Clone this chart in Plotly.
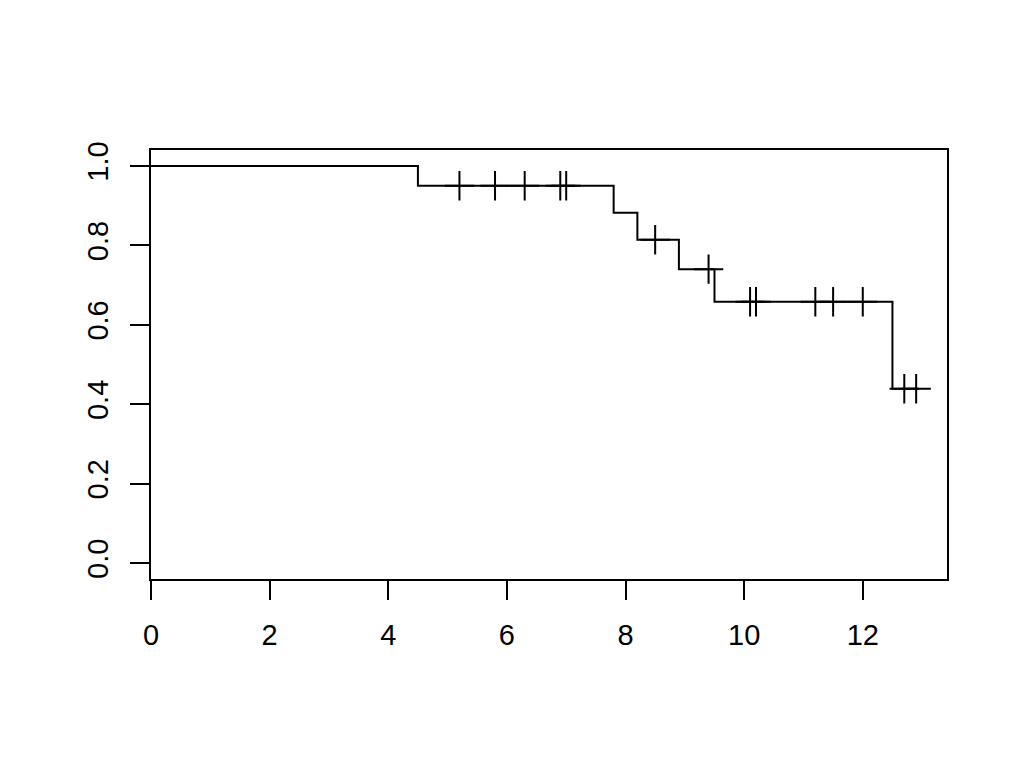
import plotly.graph_objects as go

# Kaplan-Meier step curve
step_times = [0, 4.5, 7.8, 8.2, 8.9, 9.5, 12.5, 12.9]
step_surv = [1.0, 0.95, 0.882, 0.814, 0.740, 0.658, 0.439, 0.439]

# censor marks
censor_times = [5.2, 5.8, 6.3, 6.9, 7.0, 8.5, 9.4, 10.1, 10.2, 11.2, 11.5, 12.0, 12.7, 12.9]
censor_surv = [0.95, 0.95, 0.95, 0.95, 0.95, 0.814, 0.740, 0.658, 0.658, 0.658, 0.658, 0.658, 0.439, 0.439]

x_ticks = [0, 2, 4, 6, 8, 10, 12]
y_ticks = [0.0, 0.2, 0.4, 0.6, 0.8, 1.0]
y_tick_labels = ["0.0", "0.2", "0.4", "0.6", "0.8", "1.0"]

fig = go.Figure()
fig.add_trace(go.Scatter(
    x=step_times, y=step_surv, mode="lines",
    line=dict(color="black", width=2, shape="hv"),
    showlegend=False, hoverinfo="skip"))
fig.add_trace(go.Scatter(
    x=censor_times, y=censor_surv, mode="markers",
    marker=dict(symbol="cross-thin", size=21, color="black",
                line=dict(color="black", width=2)),
    showlegend=False, hoverinfo="skip"))

axis_font = dict(family="Liberation Sans, Arial, sans-serif", size=29, color="black")

fig.update_layout(
    width=1024, height=768,
    margin=dict(l=143, r=85, t=142, b=197, autoexpand=False),
    paper_bgcolor="white", plot_bgcolor="white",
    xaxis=dict(range=[0, 13.42], tickvals=x_ticks, ticks="outside", ticklen=19,
               tickwidth=2, tickcolor="black", showgrid=False, zeroline=False,
               showline=True, linecolor="black", linewidth=2, mirror=True,
               tickfont=axis_font, ticklabelstandoff=10),
    yaxis=dict(range=[-0.04, 1.04], tickvals=y_ticks, ticktext=y_tick_labels,
               ticks="outside", ticklen=19, tickwidth=2, tickcolor="black",
               showgrid=False, zeroline=False, showline=True, linecolor="black",
               linewidth=2, mirror=True, tickangle=-90, tickfont=axis_font,
               ticklabelstandoff=10),
)

fig.write_html("out.html")
